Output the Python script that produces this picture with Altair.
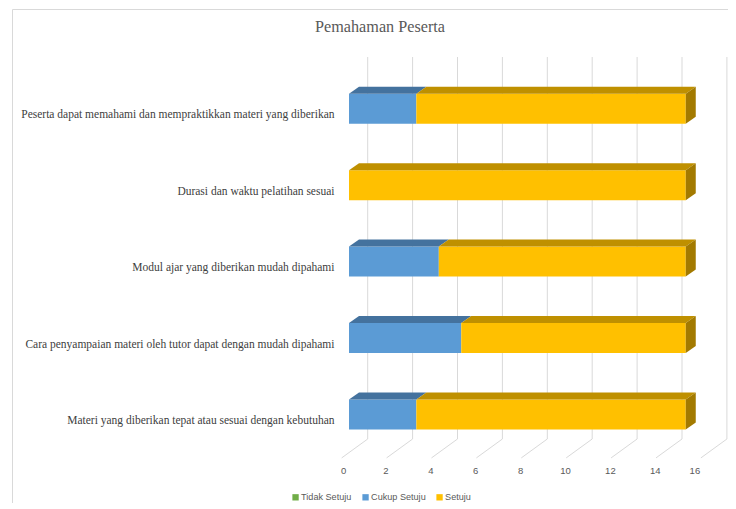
import json
import altair as alt
import pandas as pd

# ---------------- data ----------------
categories = [
    "Peserta dapat memahami dan mempraktikkan materi yang diberikan",
    "Durasi dan waktu pelatihan sesuai",
    "Modul ajar yang diberikan mudah dipahami",
    "Cara penyampaian materi oleh tutor dapat dengan mudah dipahami",
    "Materi yang diberikan tepat atau sesuai dengan kebutuhan",
]
series = ["Tidak Setuju", "Cukup Setuju", "Setuju"]
tidak_setuju = [0, 0, 0, 0, 0]
cukup_setuju = [3, 0, 4, 5, 3]
setuju = [12, 15, 11, 10, 12]
x_ticks = [0, 2, 4, 6, 8, 10, 12, 14, 16]
title_text = "Pemahaman Peserta"

# ---------------- styling ----------------
front_colors = ["#70AD47", "#5B9BD5", "#FFC000"]
top_colors = ["#548235", "#44729E", "#BF9000"]
side_colors = ["#3F6128", "#35597A", "#A37A00"]
GRID = "#D9D9D9"
SERIF = "Liberation Serif"
SANS = "Liberation Sans"

W, H = 359.2, 382
X_MAX = 16
n = len(categories)
PX_X = W / X_MAX
PX_Y = H / n
BAR_PX = 30
DEPTH_X, DEPTH_Y = 10, 7
WALL_X, WALL_Y = 18.7, -13.6
FLOOR_X, FLOOR_Y = -7.3, 5.3
hh = BAR_PX / 2 / PX_Y
dx = DEPTH_X / PX_X
dy = DEPTH_Y / PX_Y

values = [tidak_setuju, cukup_setuju, setuju]
front_rows, face_rows = [], []
for ci, cat in enumerate(categories):
    idx = n - 1 - ci
    start = 0
    last = None
    for si, s in enumerate(series):
        v = values[si][ci]
        if v <= 0:
            continue
        end = start + v
        front_rows.append(dict(series=s, cat=cat, x0=start, x1=end, y0=idx - hh, y1=idx + hh))
        top = idx + hh
        fid = f"top-{ci}-{si}"
        for xx, ya, yb in [(start, top, top), (start + dx, top + dy, top),
                           (end, top + dy, top), (end + dx, top + dy, top + dy)]:
            face_rows.append(dict(face=fid, x=xx, ya=ya, yb=yb, fill=top_colors[si]))
        start = end
        last = si
    if last is not None:
        fid = f"side-{ci}"
        for xx, ya, yb in [(start, idx + hh, idx - hh), (start + dx, idx + hh + dy, idx - hh + dy)]:
            face_rows.append(dict(face=fid, x=xx, ya=ya, yb=yb, fill=side_colors[last]))

front_df = pd.DataFrame(front_rows)
face_df = pd.DataFrame(face_rows)
tick_df = pd.DataFrame({"v": x_ticks, "v2": x_ticks})

x_scale = alt.Scale(domain=[0, X_MAX], nice=False, zero=False)
y_scale = alt.Scale(domain=[-0.5, n - 0.5], nice=False, zero=False)

label_expr = json.dumps(list(reversed(categories))) + "[datum.value]"

x_axis = alt.Axis(values=x_ticks, grid=False, ticks=False, domain=False,
                  labelFont=SANS, labelFontSize=9.5, labelColor="#595959",
                  labelPadding=13, labelOffset=-8.5)
y_axis = alt.Axis(values=list(range(n)), labelExpr=label_expr, grid=False,
                  ticks=False, domain=False, labelFont=SERIF, labelFontSize=11.5,
                  labelColor="#404040", labelPadding=15, labelLimit=500,
                  labelOffset=6)

# back-wall grid lines
grid = alt.Chart(tick_df).mark_rule(
    color=GRID, strokeWidth=1, xOffset=WALL_X, yOffset=WALL_Y, y2Offset=WALL_Y
).encode(
    x=alt.X("v:Q", scale=x_scale, axis=x_axis, title=None),
    y=alt.value(0),
    y2=alt.value(H),
)

# floor diagonal lines
floor = alt.Chart(tick_df).mark_rule(
    color=GRID, strokeWidth=1, xOffset=WALL_X, yOffset=WALL_Y,
    x2Offset=FLOOR_X, y2Offset=FLOOR_Y
).encode(
    x=alt.X("v:Q", scale=x_scale, axis=x_axis, title=None),
    x2=alt.X2("v2:Q"),
    y=alt.value(H),
    y2=alt.value(H),
)

# front faces of bars
front = alt.Chart(front_df).mark_rect().encode(
    x=alt.X("x0:Q", scale=x_scale, title=None, axis=x_axis),
    x2="x1:Q",
    y=alt.Y("y0:Q", scale=y_scale, title=None, axis=y_axis),
    y2="y1:Q",
    color=alt.Color("series:N", scale=alt.Scale(domain=series, range=front_colors),
                    legend=alt.Legend(title=None, orient="none", direction="horizontal",
                                      legendX=-58, legendY=422, symbolType="square",
                                      symbolSize=40, symbolStrokeWidth=0,
                                      labelFont=SANS, labelFontSize=9.1,
                                      labelColor="#595959", labelOffset=1,
                                      columnPadding=9)),
)

# top and side faces
faces = alt.Chart(face_df).mark_area(strokeWidth=0).encode(
    x=alt.X("x:Q", scale=x_scale, axis=x_axis, title=None),
    y=alt.Y("ya:Q", scale=y_scale, axis=y_axis, title=None),
    y2="yb:Q",
    detail="face:N",
    fill=alt.Fill("fill:N", scale=None),
)

# chart frame
frame_left = alt.Chart(pd.DataFrame({"a": [0]})).mark_rule(color=GRID).encode(
    x=alt.value(-336.5), y=alt.value(-61.1), y2=alt.value(H + 70)
)
frame_top = alt.Chart(pd.DataFrame({"a": [0]})).mark_rule(color=GRID).encode(
    x=alt.value(-336.5), x2=alt.value(W + 30), y=alt.value(-61.1)
)

title = alt.Chart(pd.DataFrame({"t": [title_text]})).mark_text(
    font=SERIF, fontSize=16.2, color="#595959", align="center", baseline="middle"
).encode(
    text="t:N", x=alt.value(31), y=alt.value(-43.6)
)

chart = alt.layer(frame_left, frame_top, grid, floor, front, faces, title).properties(
    width=W, height=H,
    background="white",
    autosize=alt.AutoSizeParams(type="none"),
    padding={"left": 341, "top": 62.6, "right": 19.8, "bottom": 50.4},
).configure_view(stroke=None, strokeWidth=0)

chart.save("out.html", embed_options={"renderer": "svg", "actions": False})
